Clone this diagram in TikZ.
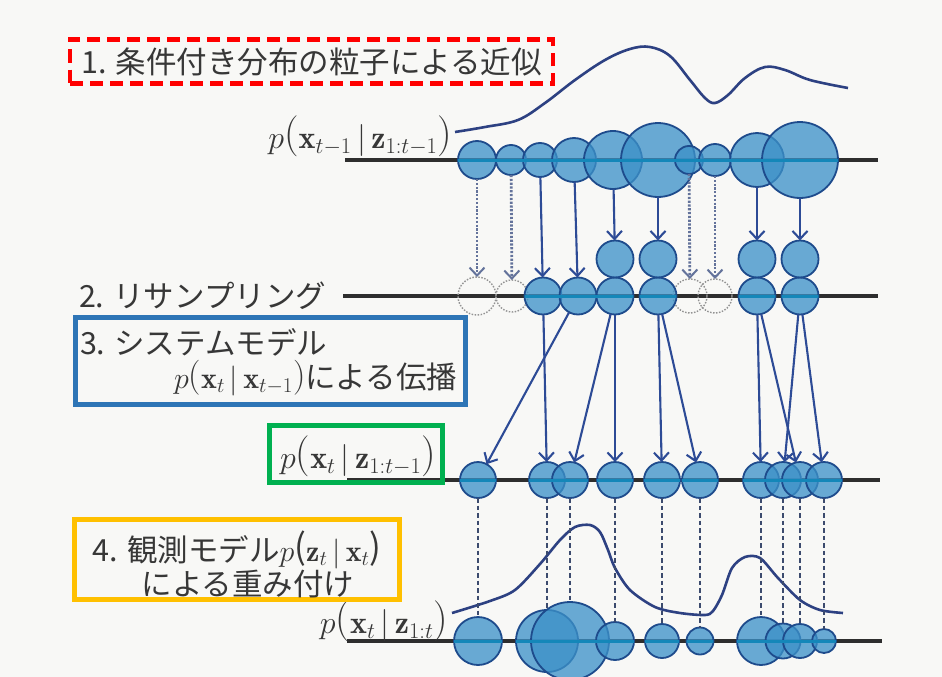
\RequirePackage{fix-cm}
\documentclass[tikz,border=0pt]{standalone}
\usepackage{fontspec}
\newfontfamily\jp{Noto Sans CJK JP}
\usetikzlibrary{arrows.meta}
\definecolor{bgc}{RGB}{248,248,246}
\definecolor{pfill}{RGB}{60,145,200}
\definecolor{pedge}{RGB}{30,75,140}
\definecolor{tealc}{RGB}{20,135,185}
\definecolor{navy}{RGB}{45,75,150}
\definecolor{curvec}{RGB}{45,65,130}
\definecolor{dashc}{RGB}{100,115,155}
\definecolor{vdc}{RGB}{60,75,110}
\definecolor{txt}{RGB}{55,55,55}
\definecolor{boxred}{RGB}{255,0,0}
\definecolor{boxblue}{RGB}{46,117,182}
\definecolor{boxgreen}{RGB}{0,176,80}
\definecolor{boxgold}{RGB}{255,192,0}
\newcommand{\jpfs}{\fontsize{30.5}{36}\selectfont}
\newcommand{\mfs}{\fontsize{32}{38}\selectfont}
\newcommand{\mfsb}{\fontsize{30}{36}\selectfont}
\newcommand{\LP}{\raisebox{2.5pt}{\fontsize{41}{41}\selectfont(}}
\newcommand{\RP}{\raisebox{2.5pt}{\fontsize{41}{41}\selectfont)}}
\newcommand{\lp}{\raisebox{1.5pt}{\fontsize{35}{35}\selectfont(}}
\newcommand{\rp}{\raisebox{1.5pt}{\fontsize{35}{35}\selectfont)}}
\def\rowA{477/19/1,511/15/2,540/17/3,574/22/4,613/29/5,658/37/6,689/14/7,715/16/8,757/27/9,800/38/10}
\def\rowB{543/18.5/a,578/18.5/b,615/18.5/c,658/18.5/d,757/18.5/e,800/18.5/f}
\def\rowBt{615/c,658/d,757/e,800/f}
\def\rowC{478/18/1,547/18/2,570/18/3,615/18/4,662/18/5,700/18/6,761/18/7,783/18/8,800/18/9,824/18/10}
\def\rowD{478/24/1,547/31/2,570/39/3,615/19/4,662/17/5,700/13.5/6,761/24/7,783/17.5/8,800/17/9,824/12/10}
\begin{document}
\begin{tikzpicture}[x=1pt,y=-1pt,
  pc/.style={circle,draw=pedge,line width=1.8pt,fill=pfill,fill opacity=0.76,inner sep=0pt,outer sep=0pt},
  ghost/.style={circle,draw=gray!85,dash pattern=on 1.5pt off 1.5pt,line width=1.4pt,inner sep=0pt,outer sep=0pt},
  axisline/.style={line width=3.6pt,draw=black!82},
  tealline/.style={line width=3pt,draw=tealc},
  arr/.style={draw=navy,line width=2.1pt,-{Straight Barb[length=8pt,width=15pt]}},
  darr/.style={draw=dashc,line width=2.8pt,dash pattern=on 2.2pt off 1.6pt,-{Straight Barb[length=8pt,width=15pt,line width=2pt]}},
  vdash/.style={draw=vdc,line width=1.8pt,dash pattern=on 4.5pt off 3pt},
  curve/.style={draw=curvec,line width=2.6pt,line join=round},
  lbl/.style={text=txt,inner sep=0pt,outer sep=0pt},
  ]
\fill[bgc] (0,0) rectangle (942,677);
\useasboundingbox (0,0) rectangle (942,677);

% axes
\draw[axisline] (345,160) -- (878,160);
\draw[axisline] (343,296) -- (878,296);
\draw[axisline] (347,480) -- (880,480);
\draw[axisline] (347,641) -- (882,641);

% density curves
\draw[curve] plot[smooth,tension=0.6] coordinates {(455,132) (485,127) (518,120) (545,103) (575,80) (605,60) (630,49) (650,47) (670,56) (690,80) (705,98) (715,103) (728,95) (745,78) (765,67) (785,70) (810,80) (848,88)};
\draw[curve] plot[smooth,tension=0.5] coordinates {(452,613) (490,601) (515,590) (540,564) (560,540) (575,527) (590,525) (600,532) (608,550) (615,568) (630,590) (655,607) (680,613) (705,615) (713,611) (722,595) (732,568) (745,557) (760,558) (778,578) (800,600) (820,610) (843,613)};

% row 1
\foreach \x/\rr/\i in \rowA {\node[pc,minimum size=2*\rr pt] (t\i) at (\x,160) {};}
\begin{scope}
\clip \foreach \x/\rr/\i in \rowA {(\x,160) circle[radius=\rr pt]};
\draw[tealline] (340,160) -- (880,160);
\end{scope}

% row 2
\node[ghost,minimum size=38pt] (g1) at (477,296) {};
\node[ghost,minimum size=32pt] (g2) at (512,296) {};
\node[ghost,minimum size=34pt] (g7) at (690,296) {};
\node[ghost,minimum size=34pt] (g8) at (715,296) {};
\foreach \x/\rr/\i in \rowB {\node[pc,minimum size=2*\rr pt] (r\i) at (\x,296) {};}
\foreach \x/\i in \rowBt {\node[pc,minimum size=37pt] (u\i) at (\x,259) {};}
\begin{scope}
\clip \foreach \x/\rr/\i in \rowB {(\x,296) circle[radius=\rr pt]};
\draw[tealline] (340,296) -- (880,296);
\end{scope}

% row 3
\foreach \x/\rr/\i in \rowC {\node[pc,minimum size=2*\rr pt] (m\i) at (\x,480) {};}
\begin{scope}
\clip \foreach \x/\rr/\i in \rowC {(\x,480) circle[radius=\rr pt]};
\draw[tealline] (340,480) -- (880,480);
\end{scope}

% row 4
\foreach \x/\rr/\i in \rowD {\node[pc,minimum size=2*\rr pt] (b\i) at (\x,641) {};}
\begin{scope}
\clip \foreach \x/\rr/\i in \rowD {(\x,641) circle[radius=\rr pt]};
\draw[tealline] (340,641) -- (885,641);
\end{scope}

% resampling arrows
\draw[darr] (t1) -- (g1);
\draw[darr] (t2) -- (g2);
\draw[darr] (t7) -- (g7);
\draw[darr] (t8) -- (g8);
\draw[arr] (t3) -- (ra);
\draw[arr] (t4) -- (rb);
\draw[arr] (t5) -- (uc);
\draw[arr] (t6) -- (ud);
\draw[arr] (t9) -- (ue);
\draw[arr] (t10) -- (uf);

% propagation arrows
\draw[arr] (ra) -- (m2);
\draw[arr] (rb) -- (m1);
\draw[arr] (rc) -- (m3);
\draw[arr] (rc) -- (m4);
\draw[arr] (rd) -- (m5);
\draw[arr] (rd) -- (m6);
\draw[arr] (re) -- (m7);
\draw[arr] (re) -- (m9);
\draw[arr] (rf) -- (m8);
\draw[arr] (rf) -- (m10);

% weighting dashed lines
\foreach \i in {1,...,10} {\draw[vdash] (m\i) -- (b\i);}

% labels
\node[lbl,anchor=east] (lA) at (452,136) {\mfs$p$\LP$\mathbf{x}_{t-1}\,|\,\mathbf{z}_{1:t-1}$\RP};
\node[lbl,anchor=east] (lD) at (448,621) {\mfs$p$\LP$\mathbf{x}_{t}\,|\,\mathbf{z}_{1:t}$\RP};

\node[draw=boxred,line width=4.5pt,dash pattern=on 13pt off 7pt,minimum width=483pt,minimum height=44pt,text=txt,inner sep=0pt] (box1) at (311.5,61.5) {\jp\jpfs 1. 条件付き分布の粒子による近似};

\node[lbl,anchor=west] (s2) at (79,296) {\jp\jpfs 2. リサンプリング};

\node[draw=boxblue,line width=5pt,minimum width=390pt,minimum height=87pt,inner sep=0pt] (box3) at (270.5,361) {};
\node[lbl,anchor=west] (s3a) at (80,342) {\jp\jpfs 3. システムモデル};
\node[lbl,anchor=east] (s3b) at (457,378) {\mfsb$p$\lp$\mathbf{x}_{t}\,|\,\mathbf{x}_{t-1}$\rp\jp\jpfs による伝播};

\node[draw=boxgreen,line width=5pt,minimum width=173pt,minimum height=57pt,inner sep=0pt] (box3g) at (356,454) {};
\node[lbl] (lC) at (358,456) {\mfs$p$\LP$\mathbf{x}_{t}\,|\,\mathbf{z}_{1:t-1}$\RP};

\node[draw=boxgold,line width=5.5pt,minimum width=325pt,minimum height=80pt,inner sep=0pt] (box4) at (237,559.5) {};
\node[lbl] (s4a) at (237,550) {\jp\jpfs 4. 観測モデル\mfsb$p$\lp$\mathbf{z}_{t}\,|\,\mathbf{x}_{t}$\rp};
\node[lbl] (s4b) at (248,584) {\jp\jpfs による重み付け};
\end{tikzpicture}
\end{document}
